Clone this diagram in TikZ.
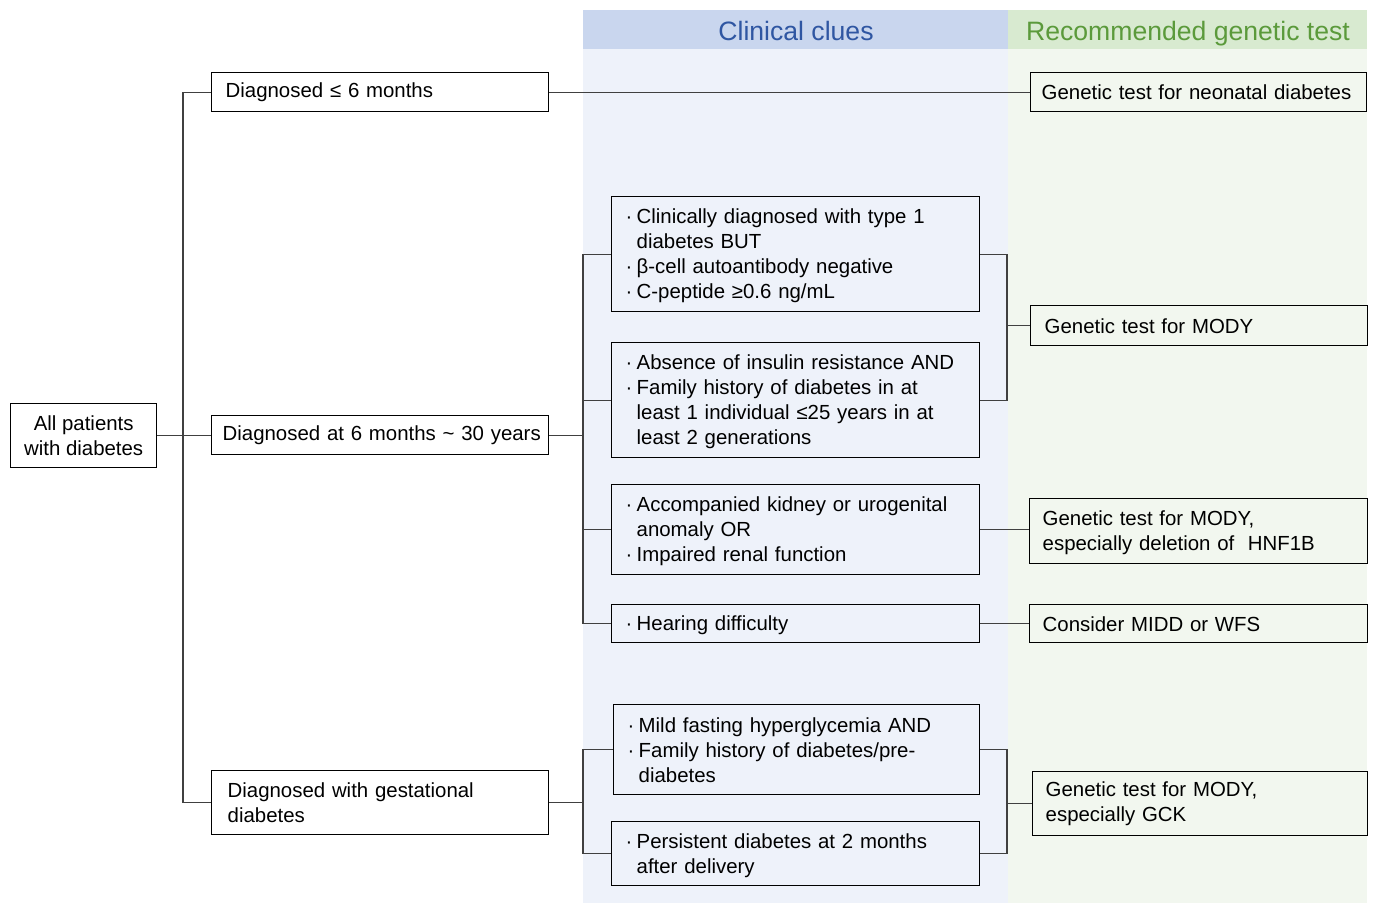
\documentclass[tikz,border=0pt]{standalone}
\usepackage{fontspec}
\setmainfont{Liberation Sans}
\definecolor{hdrblue}{HTML}{C9D6EE}
\definecolor{bgblue}{HTML}{EEF2FA}
\definecolor{hdrgreen}{HTML}{D8EAD0}
\definecolor{bggreen}{HTML}{F2F7EF}
\definecolor{txtblue}{HTML}{2F56A2}
\definecolor{txtgreen}{HTML}{5B9A3B}
\definecolor{conn}{HTML}{404040}
\newcommand{\bl}{\makebox[11pt][l]{·}}
\newcommand{\ind}{\hspace*{11pt}}
\newcommand{\fst}{\rule{0pt}{18.5pt}}
\newcommand{\bnode}[7][14]{%
  \node[box, anchor=north west, inner xsep=#1pt,
        minimum width={#5pt-#3pt}, minimum height={#6pt-#4pt},
        text width={#5pt-#3pt-2*#1pt}] (#2) at (#3,#4) {#7};}
\tikzset{
  box/.style={draw=black, line width=1.4pt, align=left, inner ysep=0pt,
              font=\fontsize{20.4pt}{25pt}\selectfont},
  link/.style={draw=conn, line width=1.1pt},
  hdr/.style={font=\fontsize{26.6pt}{30pt}\selectfont, anchor=base}
}
\begin{document}
\begin{tikzpicture}[x=1pt,y=-1pt]
\useasboundingbox (0,0) rectangle (1375,903);
% column backgrounds
\fill[bgblue] (583,49) rectangle (1008,903);
\fill[bggreen] (1008,49) rectangle (1367,903);
\fill[hdrblue] (583,10) rectangle (1008,49);
\fill[hdrgreen] (1008,10) rectangle (1367,49);
\node[hdr, text=txtblue] (h1) at (796,40.5) {Clinical clues};
\node[hdr, text=txtgreen] (h2) at (1188,40.5) {Recommended genetic test};

% left column
\node[box, align=center, minimum width=146pt, minimum height=64pt, inner xsep=4pt, anchor=north west] (all) at (10,403) {All patients\\with diabetes};
\bnode[14]{d1}{211}{72}{548}{111}{Diagnosed ≤ 6 months}
\bnode[11]{d2}{211}{415}{548}{454}{\mbox{Diagnosed at 6 months \char`~{} 30 years}}
\bnode[16]{d3}{211}{770}{548}{834}{Diagnosed with gestational\\diabetes}

% clue boxes
\bnode[14]{c1}{611}{196}{979}{311}{\fst\bl Clinically diagnosed with type 1\\\ind diabetes BUT\\\bl β-cell autoantibody negative\\\bl C-peptide ≥0.6 ng/mL}
\bnode[14]{c2}{611}{342}{979}{457}{\fst\bl Absence of insulin resistance AND\\\bl Family history of diabetes in at\\\ind least 1 individual ≤25 years in at\\\ind least 2 generations}
\bnode[14]{c3}{611}{484}{979}{574}{\fst\bl Accompanied kidney or urogenital\\\ind anomaly OR\\\bl Impaired renal function}
\bnode[14]{c4}{611}{604}{979}{642}{\fst\bl Hearing difficulty}
\bnode[14]{c5}{613}{704}{979}{794}{\bl Mild fasting hyperglycemia AND\\\bl Family history of diabetes/pre-\\\ind diabetes}
\bnode[14]{c6}{611}{821}{979}{885}{\fst\bl Persistent diabetes at 2 months\\\ind after delivery}

% test boxes
\bnode[11]{neo}{1030}{72}{1366}{111}{Genetic test for neonatal diabetes}
\bnode[14]{mody}{1030}{305}{1367}{345}{Genetic test for MODY}
\bnode[13]{hnf}{1029}{498}{1367}{563}{\fst Genetic test for MODY,\\especially deletion of\ \ HNF1B}
\bnode[13]{midd}{1029}{604}{1367}{642}{Consider MIDD or WFS}
\bnode[13]{gck}{1032}{771}{1367}{835}{Genetic test for MODY,\\especially GCK}

% connectors: trunk
\coordinate (tr) at (183,435);
\draw[link] (all.east) -- (all.east -| d2.west);
\draw[link] (d1.west) -| (tr);
\draw[link] (d3.west) -| (tr);
\draw[link] (d1.east) -- (d1.east -| neo.west);

% middle group
\coordinate (bm) at (583,435);
\draw[link] (d2.east) -- (d2.east -| bm);
\draw[link] (c1.west) -| (bm);
\draw[link] (c4.west) -| (bm);
\draw[link] (c2.west) -- (c2.west -| bm);
\draw[link] (c3.west) -- (c3.west -| bm);
\coordinate (rm) at (1007,325);
\draw[link] (c1.east) -| (rm);
\draw[link] (c2.east) -| (rm);
\draw[link] (mody.west) -- (mody.west -| rm);
\draw[link] (c3.east) -- (c3.east -| hnf.west);
\draw[link] (c4.east) -- (c4.east -| midd.west);

% gestational group
\coordinate (bg) at (583,802);
\draw[link] (d3.east) -- (d3.east -| bg);
\draw[link] (c5.west) -| (bg);
\draw[link] (c6.west) -| (bg);
\coordinate (rg) at (1007,803);
\draw[link] (c5.east) -| (rg);
\draw[link] (c6.east) -| (rg);
\draw[link] (gck.west) -- (gck.west -| rg);
\end{tikzpicture}
\end{document}
